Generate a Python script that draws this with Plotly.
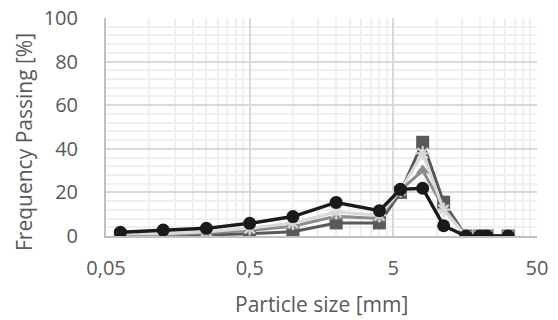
import plotly.graph_objects as go

sizes = [0.063, 0.125, 0.25, 0.5, 1, 2, 4, 5.6, 8, 11.2, 16, 20, 22.4, 31.5]

series_a = [0, 0, 0.5, 1, 2, 6, 6, 20, 43, 15.5, 0, 0, 0, 0]      # dark grey squares
series_b = [0.5, 0.5, 1.5, 2.5, 4.5, 9, 8, 21, 30, 13, 0, 0, 0, 0]  # grey triangles
series_c = [1, 1, 2, 3.5, 6, 11, 9.5, 21, 38, 12, 0, 0, 0, 0]       # light grey stars
series_d = [1.7, 2.7, 3.5, 5.8, 8.9, 15.4, 11.6, 21.4, 21.9, 4.7, 0, 0, 0, 0]  # black circles

x_tickvals = [0.05, 0.5, 5, 50]
x_ticktext = ["0,05", "0,5", "5", "50"]
x_minor = [0.05 * k * 10 ** d for d in range(3) for k in range(2, 10)]

FONT = "Open Sans"
FS = 20
TFS = 21

fig = go.Figure()
fig.add_trace(go.Scatter(x=sizes, y=series_a, mode="lines+markers",
                         line=dict(color="#595959", width=3),
                         marker=dict(symbol="square", size=13, color="#595959")))
fig.add_trace(go.Scatter(x=sizes, y=series_b, mode="lines+markers",
                         line=dict(color="#8c8c8c", width=3),
                         marker=dict(symbol="triangle-up", size=12, color="#8c8c8c")))
fig.add_trace(go.Scatter(x=sizes, y=series_c, mode="lines+markers",
                         line=dict(color="#d9d9d9", width=3),
                         marker=dict(symbol="asterisk-open", size=12,
                                     line=dict(color="#a6a6a6", width=2))))
fig.add_trace(go.Scatter(x=sizes, y=series_d, mode="lines+markers",
                         line=dict(color="#1a1a1a", width=3.5),
                         marker=dict(symbol="circle", size=13, color="#1a1a1a")))

fig.update_layout(
    width=558, height=320,
    margin=dict(l=106, r=21, t=18, b=84),
    paper_bgcolor="white", plot_bgcolor="white",
    showlegend=False,
    font=dict(family=FONT, size=FS, color="#595959"),
    annotations=[
        dict(text="Particle size [mm]", xref="paper", yref="paper",
             x=0.5, y=-(304 - 236) / 218, xanchor="center", yanchor="middle",
             showarrow=False, font=dict(size=TFS, color="#595959")),
        dict(text="Frequency Passing [%]", xref="paper", yref="paper",
             x=-(106 - 24) / 431, y=(236 - 142) / 218, textangle=-90,
             xanchor="center", yanchor="middle",
             showarrow=False, font=dict(size=TFS, color="#595959")),
    ],
)
fig.update_xaxes(
    type="log", range=[-1.30103, 1.69897], automargin=False,
    tickmode="array", tickvals=x_tickvals, ticktext=x_ticktext,
    showgrid=True, gridcolor="#d9d9d9", gridwidth=1.5,
    minor=dict(tickmode="array", tickvals=x_minor, showgrid=True,
               gridcolor="#efefef", gridwidth=1.5),
    showline=True, linecolor="#bfbfbf", linewidth=2,
    zeroline=False, ticks="", ticklabelstandoff=13,
)
fig.update_yaxes(
    range=[0, 100], dtick=20, tick0=0, automargin=False,
    showgrid=True, gridcolor="#d9d9d9", gridwidth=1.5,
    minor=dict(dtick=4, showgrid=True, gridcolor="#efefef", gridwidth=1.5),
    showline=True, linecolor="#bfbfbf", linewidth=2,
    zeroline=False, ticks="", ticklabelstandoff=22,
)

fig.write_html("out.html", post_script="document.body.style.margin='0px';",
               config={"displayModeBar": False})
